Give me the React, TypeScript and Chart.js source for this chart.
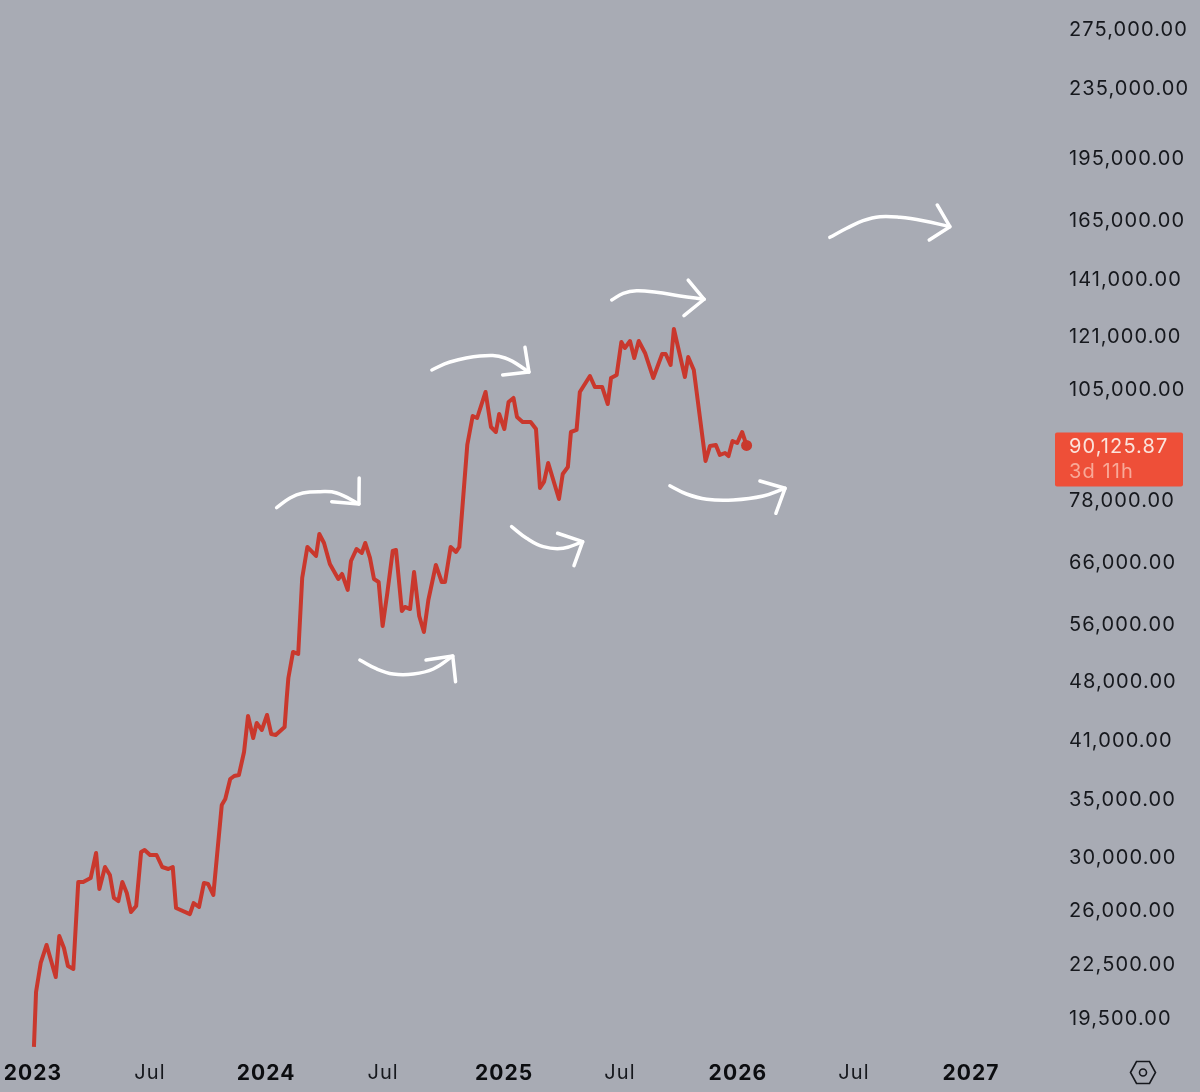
import { useEffect, useRef } from "react"
import { Chart, registerables } from "chart.js"

Chart.register(...registerables)

const priceYears = [
  2023.004, 2023.013, 2023.033, 2023.058, 2023.097, 2023.112, 2023.132, 2023.149, 2023.172, 2023.193,
  2023.214, 2023.246, 2023.269, 2023.283, 2023.307, 2023.328, 2023.345, 2023.364, 2023.381, 2023.4,
  2023.418, 2023.44, 2023.461, 2023.476, 2023.499, 2023.527, 2023.551, 2023.577, 2023.596, 2023.61,
  2023.669, 2023.685, 2023.708, 2023.729, 2023.747, 2023.769, 2023.805, 2023.82, 2023.841, 2023.858,
  2023.878, 2023.9, 2023.917, 2023.939, 2023.954, 2023.976, 2023.998,
  2024.016, 2024.035, 2024.073, 2024.082, 2024.089, 2024.109, 2024.131, 2024.148, 2024.17, 2024.207,
  2024.221, 2024.241, 2024.266, 2024.302, 2024.318, 2024.342, 2024.356, 2024.38, 2024.402, 2024.417,
  2024.437, 2024.454, 2024.474, 2024.491, 2024.511, 2024.534, 2024.548, 2024.573, 2024.586, 2024.608,
  2024.625, 2024.647, 2024.667, 2024.686, 2024.718, 2024.743, 2024.757, 2024.781, 2024.804, 2024.818,
  2024.852, 2024.875, 2024.894, 2024.93, 2024.953, 2024.974, 2024.988,
  2025.01, 2025.028, 2025.049, 2025.064, 2025.088, 2025.122, 2025.145, 2025.162, 2025.179, 2025.197,
  2025.243, 2025.259, 2025.281, 2025.294, 2025.318, 2025.332, 2025.375, 2025.396, 2025.427, 2025.451,
  2025.465, 2025.489, 2025.509, 2025.524, 2025.546, 2025.564, 2025.583, 2025.61, 2025.645, 2025.683,
  2025.698, 2025.719, 2025.733, 2025.78, 2025.794, 2025.818, 2025.868, 2025.887, 2025.912, 2025.929,
  2025.951, 2025.966, 2025.983,
  2026.003, 2026.024, 2026.043,
]

const closes = [
  18000, 20850, 22535, 23650, 21700, 24220, 23460, 22350, 22175, 27990,
  27990, 28290, 30250, 27470, 29140, 28520, 26820, 26600, 27990, 27180,
  25830, 26250, 30335, 30500, 30090, 30090, 29140, 28985, 29140, 26110,
  25690, 26460, 26180, 27920, 27840, 27035, 34405, 34960, 36885, 37180,
  37280, 39650, 43665, 41170, 42855, 42060, 43780,
  41610, 41500, 42395, 45820, 48340, 51830, 51550, 63190, 68660, 67025,
  71090, 69400, 65600, 63020, 63870, 61195, 66130, 68295, 67565, 69400,
  66670, 63020, 62515, 55565, 60700, 67930, 68110, 57840, 58470, 58150,
  64210, 57075, 54680, 59575, 65430, 62515, 62515, 68660, 67750, 68660,
  90230, 97510, 96990, 103990, 94680, 93420, 98040,
  94170, 101240, 102330, 97250, 95955, 95955, 94170, 80415, 81715, 85980,
  78080, 83480, 85065, 93420, 93930, 103990, 108540, 105390, 105390, 100695,
  107960, 108850, 118890, 116985, 119200, 113900, 119200, 115435, 107960, 115130,
  115130, 111785, 123095, 108245, 114210, 110295, 86435, 89985, 90225, 87845,
  88310, 87580, 91200,
  90710, 93420, 90125.87,
]

const yTicks = [
  275000, 235000, 195000, 165000, 141000, 121000, 105000, 78000, 66000,
  56000, 48000, 41000, 35000, 30000, 26000, 22500, 19500,
]
// the source axis is not quite even, these are where its labels sit
const xTicks = [2023, 2023.499, 2023.994, 2024.493, 2025.009, 2025.503, 2026.006, 2026.501, 2027]
const xTickLabels = ["2023", "Jul", "2024", "Jul", "2025", "Jul", "2026", "Jul", "2027"]

const countdown = "3d 11h"

// hand drawn arrows, as [year, price]
const arrowAShaft = [[2024.039, 76280], [2024.096, 78290], [2024.151, 79345], [2024.224, 79620], [2024.295, 79345], [2024.39, 77036]]
const arrowAHead = [[2024.391, 82594], [2024.39, 77036], [2024.274, 77515]]
const arrowBShaft = [[2024.394, 50729], [2024.466, 49522], [2024.536, 48862], [2024.622, 48862], [2024.707, 49522], [2024.79, 51275]]
const arrowBHead = [[2024.676, 50729], [2024.79, 51275], [2024.802, 47864]]
const arrowCShaft = [[2024.701, 110296], [2024.778, 112691], [2024.906, 114516], [2025.013, 113900], [2025.115, 109707]]
const arrowCHead = [[2025.098, 117210], [2025.115, 109707], [2025.003, 108850]]
const arrowDShaft = [[2025.041, 72497], [2025.105, 70280], [2025.176, 68717], [2025.261, 68424], [2025.344, 69640]]
const arrowDHead = [[2025.237, 71227], [2025.344, 69640], [2025.307, 65306]]
const arrowEShaft = [[2025.468, 133040], [2025.517, 135440], [2025.574, 136400], [2025.659, 135810], [2025.759, 134465], [2025.862, 133300]]
const arrowEHead = [[2025.794, 140350], [2025.862, 133300], [2025.776, 127560]]
const arrowFShaft = [[2025.716, 80905], [2025.787, 79130], [2025.873, 78020], [2025.986, 77870], [2026.114, 78705], [2026.207, 80350]]
const arrowFHead = [[2026.1, 81935], [2026.207, 80350], [2026.168, 75140]]
const arrowGShaft = [[2026.398, 157360], [2026.47, 161205], [2026.54, 164510], [2026.612, 166290], [2026.697, 166020], [2026.796, 164510], [2026.91, 161900]]
const arrowGHead = [[2026.856, 171590], [2026.91, 161900], [2026.822, 156235]]

const shafts = [arrowAShaft, arrowBShaft, arrowCShaft, arrowDShaft, arrowEShaft, arrowFShaft, arrowGShaft]
const heads = [arrowAHead, arrowBHead, arrowCHead, arrowDHead, arrowEHead, arrowFHead, arrowGHead]

const LINE_COLOR = "#c9382d"
const TAG_COLOR = "#ee4f38"
const FONT = "Inter, sans-serif"

const toPoints = (list: number[][]) => list.map(([x, y]) => ({ x, y }))

const xLabelFor = (value: number) => xTickLabels[xTicks.indexOf(value)]

const formatPrice = (value: number) =>
  value.toLocaleString("en-US", { minimumFractionDigits: 2, maximumFractionDigits: 2 })

// letter spacing for every text on the canvas, the axis labels are a bit airy
const spacingPlugin = {
  id: "spacing",
  beforeDraw(chart: any) {
    chart.ctx.letterSpacing = "1.1px"
  },
}

const priceTagPlugin = {
  id: "priceTag",
  afterDraw(chart: any) {
    const { ctx, scales } = chart
    const last = closes[closes.length - 1]
    const y = scales.y.getPixelForValue(last)
    const right = chart.chartArea.right

    ctx.save()
    ctx.fillStyle = TAG_COLOR
    ctx.beginPath()
    ctx.roundRect(right - 10, y - 13, 128, 54, 2)
    ctx.fill()
    ctx.textAlign = "left"
    ctx.textBaseline = "middle"
    ctx.font = `20px ${FONT}`
    ctx.fillStyle = "#fbe3dc"
    ctx.fillText(formatPrice(last), right + 4, y + 2)
    ctx.fillStyle = "#f8a998"
    ctx.fillText(countdown, right + 4, y + 27)
    ctx.restore()

    // settings hexagon, bottom right
    const cx = chart.width - 57
    const cy = 1072.5
    ctx.save()
    ctx.strokeStyle = "#16181d"
    ctx.lineWidth = 1.6
    ctx.beginPath()
    ctx.moveTo(cx - 12.5, cy)
    ctx.lineTo(cx - 6.5, cy - 11)
    ctx.lineTo(cx + 6.5, cy - 11)
    ctx.lineTo(cx + 12.5, cy)
    ctx.lineTo(cx + 6.5, cy + 11)
    ctx.lineTo(cx - 6.5, cy + 11)
    ctx.closePath()
    ctx.stroke()
    ctx.beginPath()
    ctx.arc(cx, cy, 3.5, 0, Math.PI * 2)
    ctx.stroke()
    ctx.restore()
  },
}

// the plot runs to the page edges, so no room is kept for overhanging labels
const fitAxis = (scale: any, size: { width?: number; height?: number }) => {
  if (size.width) scale.width = size.width
  if (size.height) scale.height = size.height
  scale.paddingTop = 0
  scale.paddingBottom = 0
  scale.paddingLeft = 0
  scale.paddingRight = 0
}

export default function App() {
  const chartRef = useRef<HTMLCanvasElement>(null)

  useEffect(() => {
    document.body.style.margin = "0"
    if (!chartRef.current) return

    const arrowStyle = {
      borderColor: "#ffffff",
      borderWidth: 3.5,
      borderCapStyle: "round",
      borderJoinStyle: "round",
      pointRadius: 0,
    }

    const chart = new Chart(chartRef.current, {
      type: "line",
      data: {
        datasets: [
          {
            data: priceYears.map((x, i) => ({ x, y: closes[i] })),
            borderColor: LINE_COLOR,
            backgroundColor: LINE_COLOR,
            borderWidth: 4,
            borderJoinStyle: "round",
            pointRadius: (ctx: any) => (ctx.dataIndex === closes.length - 1 ? 5.5 : 0),
            pointBorderWidth: 0,
          },
          ...shafts.map((list) => ({ ...arrowStyle, data: toPoints(list), tension: 0.4 })),
          ...heads.map((list) => ({ ...arrowStyle, data: toPoints(list) })),
        ],
      } as any,
      options: {
        responsive: false,
        animation: false,
        layout: { padding: 0, autoPadding: false },
        plugins: { legend: { display: false }, tooltip: { enabled: false } },
        scales: {
          x: {
            type: "linear",
            min: 2022.8593,
            max: 2027.4009,
            grid: { display: false, drawTicks: false },
            border: { display: false },
            afterFit: (scale: any) => fitAxis(scale, { height: 42 }),
            afterBuildTicks: (scale: any) => {
              scale.ticks = xTicks.map((value) => ({ value }))
            },
            ticks: {
              autoSkip: false,
              maxRotation: 0,
              padding: 11,
              color: (ctx: any) => (xLabelFor(ctx.tick?.value) === "Jul" ? "#16181d" : "#0c0d10"),
              font: (ctx: any) =>
                xLabelFor(ctx.tick?.value) === "Jul"
                  ? { family: FONT, size: 20, weight: "400" }
                  : { family: FONT, size: 21, weight: "700" },
              callback: (value: any) => xLabelFor(Number(value)),
            },
          },
          y: {
            type: "logarithmic",
            position: "right",
            min: 17850,
            max: 297100,
            grid: { display: false, drawTicks: false },
            border: { display: false },
            afterFit: (scale: any) => fitAxis(scale, { width: 135 }),
            afterBuildTicks: (scale: any) => {
              scale.ticks = yTicks.map((value) => ({ value }))
            },
            ticks: {
              autoSkip: false,
              padding: 4,
              labelOffset: 1.5,
              color: "#16181d",
              font: { family: FONT, size: 20 },
              callback: (value: any) => formatPrice(Number(value)),
            },
          },
        },
      } as any,
      plugins: [spacingPlugin, priceTagPlugin],
    })

    return () => chart.destroy()
  }, [])

  return (
    <div style={{ width: 1200, height: 1092, background: "#a8abb4" }}>
      <canvas ref={chartRef} width={1200} height={1092} style={{ display: "block" }} />
    </div>
  )
}
